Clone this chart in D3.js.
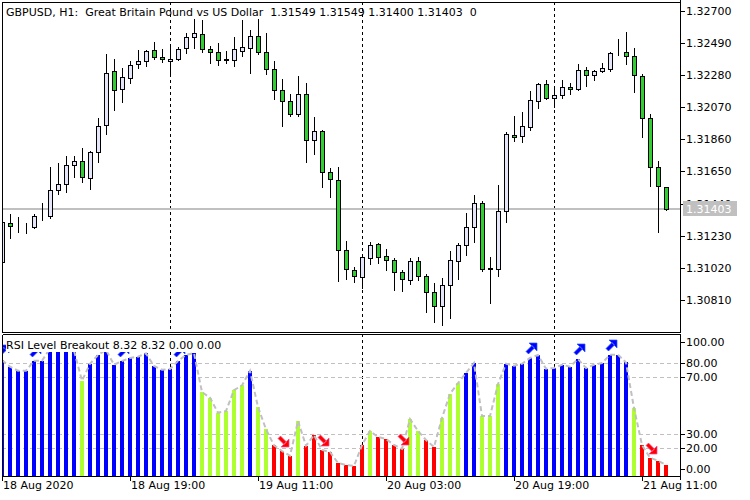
<!DOCTYPE html>
<html><head><meta charset="utf-8">
<script src="https://cdn.jsdelivr.net/npm/d3@7"></script>
<style>body{margin:0;background:#fff}svg{display:block;font-family:"DejaVu Sans",sans-serif;font-size:11px}</style>
</head><body><svg id="c" width="750" height="500"></svg>
<script>
const open = [1.31056,1.31311,1.31290,1.31284,1.31285,1.31359,1.31361,1.31529,1.31568,1.31690,1.31716,1.31605,1.31775,1.31951,1.32306,1.32187,1.32258,1.32350,1.32370,1.32441,1.32400,1.32370,1.32387,1.32454,1.32526,1.32546,1.32448,1.32428,1.32383,1.32376,1.32437,1.32454,1.32535,1.32428,1.32317,1.32182,1.32108,1.32023,1.32154,1.31853,1.31912,1.31644,1.31594,1.31135,1.31004,1.30962,1.31083,1.31174,1.31096,1.31070,1.30991,1.30939,1.31065,1.30965,1.30860,1.30769,1.30906,1.31065,1.31167,1.31285,1.31442,1.31011,1.31011,1.31392,1.31888,1.31880,1.31942,1.32108,1.32221,1.32132,1.32147,1.32200,1.32187,1.32311,1.32278,1.32304,1.32319,1.32426,1.32428,1.32402,1.32272,1.31997,1.31677,1.31549];
const high = [1.31333,1.31372,1.31352,1.31311,1.31372,1.31444,1.31681,1.31703,1.31753,1.31751,1.31803,1.31784,1.31999,1.32415,1.32383,1.32326,1.32371,1.32443,1.32445,1.32494,1.32448,1.32461,1.32463,1.32553,1.32644,1.32639,1.32470,1.32489,1.32439,1.32526,1.32637,1.32574,1.32646,1.32554,1.32371,1.32254,1.32156,1.32274,1.32228,1.32006,1.31921,1.31672,1.31681,1.31196,1.31026,1.31109,1.31189,1.31182,1.31141,1.31083,1.31006,1.31083,1.31089,1.30980,1.30919,1.30952,1.31130,1.31182,1.31377,1.31496,1.31459,1.31089,1.31559,1.31908,1.32014,1.32038,1.32177,1.32230,1.32247,1.32206,1.32247,1.32230,1.32352,1.32330,1.32311,1.32358,1.32430,1.32513,1.32561,1.32454,1.32287,1.32023,1.31718,1.31549];
const low = [1.31052,1.31217,1.31256,1.31246,1.31280,1.31333,1.31348,1.31501,1.31514,1.31616,1.31583,1.31533,1.31714,1.31893,1.32049,1.32102,1.32226,1.32324,1.32339,1.32385,1.32367,1.32274,1.32378,1.32426,1.32454,1.32428,1.32356,1.32343,1.32356,1.32337,1.32406,1.32291,1.32415,1.32287,1.32121,1.31949,1.32015,1.32014,1.31710,1.31762,1.31550,1.31485,1.30936,1.30949,1.30930,1.30887,1.31047,1.31054,1.31008,1.30877,1.30871,1.30917,1.30943,1.30734,1.30668,1.30645,1.30694,1.30949,1.31106,1.31189,1.31002,1.30793,1.30967,1.31322,1.31851,1.31844,1.31923,1.32066,1.32123,1.32073,1.32132,1.32158,1.32182,1.32210,1.32247,1.32300,1.32306,1.32411,1.32350,1.32167,1.31877,1.31555,1.31256,1.31400];
const close = [1.31318,1.31294,1.31287,1.31287,1.31359,1.31362,1.31529,1.31568,1.31692,1.31716,1.31612,1.31775,1.31945,1.32291,1.32180,1.32265,1.32343,1.32370,1.32435,1.32396,1.32383,1.32383,1.32452,1.32526,1.32553,1.32448,1.32428,1.32376,1.32376,1.32448,1.32461,1.32535,1.32432,1.32317,1.32182,1.32108,1.32023,1.32154,1.31853,1.31912,1.31646,1.31603,1.31135,1.31011,1.30969,1.31089,1.31167,1.31089,1.31070,1.30991,1.30945,1.31065,1.30965,1.30860,1.30769,1.30906,1.31071,1.31167,1.31285,1.31442,1.31015,1.31021,1.31390,1.31893,1.31873,1.31947,1.32117,1.32221,1.32132,1.32147,1.32200,1.32187,1.32311,1.32278,1.32304,1.32324,1.32424,1.32422,1.32402,1.32278,1.31997,1.31677,1.31555,1.31403];
const rsi = [81.8,77.2,74.4,74.4,81.4,81.4,90,91,89,88.5,67.4,79.3,85.4,89,78.6,81.2,83.3,84.2,86.6,77.7,75.1,75.6,81.2,85.4,86.8,59.4,55.5,44.9,46.1,60.8,64.1,74.4,48.9,33.3,22.1,18.1,14.8,39.1,21.8,29.3,18.8,17.4,9.7,8.3,7.6,22.3,32.1,27.9,26.5,22.3,19.6,40.5,32.1,25.8,20.9,41.2,58.2,65.7,72.8,79.8,42.6,42.6,65.0,79.3,77.9,79.3,83.3,85.4,75.8,76.3,78.6,77.2,82.6,76.3,78.6,79.8,85.6,85.6,80.2,48.2,22.3,13.4,11.3,8.32];
const upArrows = [0,4,12,15,22,66,72,76];
const downArrows = [35,40,50,81];
const timeLabels = ["18 Aug 2020","18 Aug 19:00","19 Aug 11:00","20 Aug 03:00","20 Aug 19:00","21 Aug 11:00"];
const timeIdx = [0,16,32,48,64,80];
const daySeparators = [21,45,69];
const priceTicks = [1.32700,1.32490,1.32280,1.32070,1.31860,1.31650,1.31440,1.31230,1.31020,1.30810];
const rsiTicks = [100,80,70,30,20,0];
const rsiLevels = [80,70,30,20];
const bid = 1.31403;
const title = "GBPUSD, H1:  Great Britain Pound vs US Dollar  1.31549 1.31549 1.31400 1.31403  0";
const rsiTitle = "RSI Level Breakout 8.32 8.32 0.00 0.00";

const svg = d3.select("#c");
const x = d3.scaleLinear().domain([0, 83]).range([2, 666]);
const yP = d3.scaleLinear().domain([1.30810, 1.32700]).range([300, 10.7]);
const yR = d3.scaleLinear().domain([0, 100]).range([476.8, 334.2]);
const L = 2, R = 680, T1 = 2, B1 = 332, T2 = 334, B2 = 476;
const rp = v => Math.round(v) + 0.5;

const defs = svg.append("defs");
defs.append("clipPath").attr("id","c1").append("rect").attr("x",L+1).attr("y",T1+1).attr("width",R-L-1).attr("height",B1-T1-1);
defs.append("clipPath").attr("id","c2").append("rect").attr("x",L+1).attr("y",T2+1).attr("width",R-L-1).attr("height",B2-T2-1);

// ---------- top panel ----------
const g1 = svg.append("g").attr("clip-path","url(#c1)").attr("shape-rendering","crispEdges");
g1.selectAll("line.sep").data(daySeparators).join("line")
  .attr("x1", d => x(d)+0.5).attr("x2", d => x(d)+0.5).attr("y1", T1).attr("y2", B1)
  .attr("stroke","#000").attr("stroke-dasharray","3,3");
g1.append("line").attr("x1",L).attr("x2",R+1).attr("y1",Math.round(yP(bid))).attr("y2",Math.round(yP(bid)))
  .attr("stroke","#c0c0c0").attr("stroke-width",2);
const idx = d3.range(open.length);
g1.selectAll("line.wick").data(idx).join("line")
  .attr("x1", i => x(i)+0.5).attr("x2", i => x(i)+0.5)
  .attr("y1", i => Math.round(yP(high[i]))).attr("y2", i => Math.round(yP(low[i]))+1)
  .attr("stroke","#000");
g1.selectAll("rect.body").data(idx).join("rect")
  .attr("x", i => x(i)-1.5).attr("width", 4)
  .attr("y", i => rp(yP(Math.max(open[i],close[i]))))
  .attr("height", i => Math.max(0, Math.round(yP(Math.min(open[i],close[i]))) - Math.round(yP(Math.max(open[i],close[i])))))
  .attr("fill", i => close[i] >= open[i] ? "#e6e6fa" : "#32cd32")
  .attr("stroke","#000");

// ---------- bottom panel ----------
const g2 = svg.append("g").attr("clip-path","url(#c2)");
g2.selectAll("line.sep").data(daySeparators).join("line").attr("shape-rendering","crispEdges")
  .attr("x1", d => x(d)+0.5).attr("x2", d => x(d)+0.5).attr("y1", T2).attr("y2", B2)
  .attr("stroke","#000").attr("stroke-dasharray","3,3");
g2.selectAll("line.lvl").data(rsiLevels).join("line").attr("shape-rendering","crispEdges")
  .attr("x1", L).attr("x2", R).attr("y1", d => rp(yR(d))).attr("y2", d => rp(yR(d)))
  .attr("stroke","#c0c0c0").attr("stroke-dasharray","4,3");
g2.selectAll("rect.bar").data(idx).join("rect").attr("shape-rendering","crispEdges")
  .attr("x", i => x(i)-2).attr("width", 4)
  .attr("y", i => Math.round(yR(rsi[i]))).attr("height", i => B2 - Math.round(yR(rsi[i])))
  .attr("fill", i => rsi[i] >= 70 ? "#0000ff" : (rsi[i] >= 30 ? "#adff2f" : "#ff0000"));
g2.append("path").datum(idx)
  .attr("d", d3.line().x(i => x(i)).y(i => yR(rsi[i])))
  .attr("fill","none").attr("stroke","#c0c0c0").attr("stroke-width",2).attr("stroke-dasharray","5,3");
const upPath = "M3,0 L11,0 L11,8 Z M0,8.5 L2.5,11 L8.5,5 L6,2.5 Z";
const dnPath = "M3,11 L11,11 L11,3 Z M0,2.5 L2.5,0 L8.5,6 L6,8.5 Z";
g2.selectAll("path.up").data(upArrows).join("path")
  .attr("transform", i => `translate(${x(i)-4},${Math.round(yR(rsi[i]))-15})`)
  .attr("d", upPath).attr("fill","#0000ff").attr("stroke","#2a5cff").attr("stroke-width",0.7);
g2.selectAll("path.dn").data(downArrows).join("path")
  .attr("transform", i => `translate(${x(i)-4},${Math.round(yR(rsi[i]))-15})`)
  .attr("d", dnPath).attr("fill","#ff0000").attr("stroke","#ff4d94").attr("stroke-width",0.7);

// label with background
const lblG = svg.append("g");
const lbl = lblG.append("text").attr("x",6).attr("y",349).attr("fill","#000").text(rsiTitle);
const bb = lbl.node().getBBox();
lblG.insert("rect","text").attr("x",L+4).attr("y",T2+1).attr("width",bb.x+bb.width-L-3).attr("height",17).attr("fill","#fff");

// ---------- frames ----------
const fr = svg.append("g").attr("shape-rendering","crispEdges").attr("stroke","#000").attr("fill","none");
fr.append("path").attr("d",`M${L+0.5},${T1+0.5} H${R+0.5} V${B1+0.5} H${L+0.5} Z`);
fr.append("path").attr("d",`M${L+0.5},${T2+0.5} H${R+0.5} V${B2+4} M${L+0.5},${T2+0.5} V${B2+4} M${L},${B2+0.5} H${R+1}`);
fr.append("line").attr("x1",R+0.5).attr("x2",R+0.5).attr("y1",0).attr("y2",T1);

// price axis
const ax1 = svg.append("g");
ax1.selectAll("line").data(priceTicks).join("line").attr("shape-rendering","crispEdges")
  .attr("x1",R+1).attr("x2",R+5).attr("y1",d => rp(yP(d))).attr("y2",d => rp(yP(d))).attr("stroke","#000");
ax1.selectAll("text").data(priceTicks).join("text")
  .attr("x",R+6).attr("y",d => Math.round(yP(d))+4).text(d => d.toFixed(5));
const by = Math.round(yP(bid));
ax1.append("rect").attr("x",R+3).attr("y",by-8).attr("width",54).attr("height",15).attr("fill","#c0c0c0");
ax1.append("text").attr("x",R+6).attr("y",by+4).attr("fill","#fff").text(bid.toFixed(5));

// rsi axis
const ax2 = svg.append("g");
const lblY = d => d === 100 ? yR(d)+8 : (d === 0 ? yR(d)-7.5 : yR(d));
ax2.selectAll("line").data(rsiTicks).join("line").attr("shape-rendering","crispEdges")
  .attr("x1",R+1).attr("x2",R+5).attr("y1",d => rp(lblY(d))).attr("y2",d => rp(lblY(d))).attr("stroke","#000");
ax2.selectAll("text").data(rsiTicks).join("text")
  .attr("x",R+6).attr("y",d => Math.round(lblY(d))+4).text(d => d.toFixed(2));

// time axis
const ax3 = svg.append("g");
ax3.selectAll("line").data(timeIdx).join("line").attr("shape-rendering","crispEdges")
  .attr("x1",d => x(d)+0.5).attr("x2",d => x(d)+0.5).attr("y1",B2).attr("y2",B2+5).attr("stroke","#000");
ax3.selectAll("text").data(timeIdx).join("text")
  .attr("x",d => x(d)+1).attr("y",489).text((d,i) => timeLabels[i]);

// title
svg.append("text").attr("x",6).attr("y",16).attr("xml:space","preserve").style("white-space","pre").text(title);
</script></body></html>
